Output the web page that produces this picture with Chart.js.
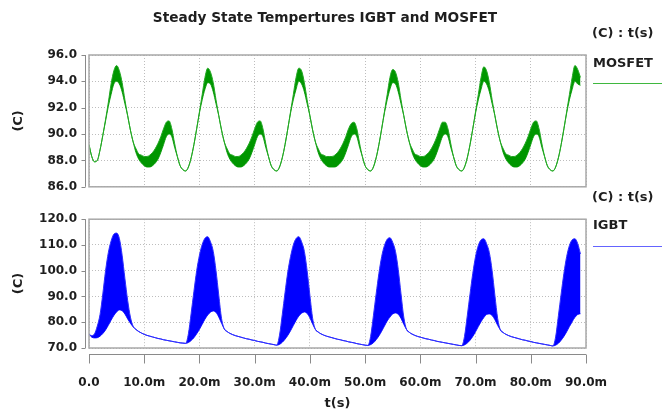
<!DOCTYPE html>
<html><head><meta charset="utf-8">
<script src="https://cdn.jsdelivr.net/npm/chart.js@4.4.1/dist/chart.umd.min.js"></script>
<style>
html,body{margin:0;padding:0;background:#fff;}
#wrap{position:relative;width:662px;height:415px;overflow:hidden;font-family:'DejaVu Sans',sans-serif;font-weight:bold;color:#1e1e1e;}
canvas{position:absolute;left:0;}
#c1{top:0;} #c2{top:200px;}
.t{position:absolute;white-space:nowrap;font-size:13px;line-height:16px;}
.ln{position:absolute;height:1px;}
</style></head><body>
<div id="wrap">
<canvas id="c1" width="662" height="206"></canvas>
<canvas id="c2" width="662" height="215"></canvas>
<div class="t" style="left:0;width:650px;text-align:center;top:9px;font-size:13.7px;">Steady State Tempertures IGBT and MOSFET</div>
<div class="t" style="left:592px;top:25px;">(C) : t(s)</div>
<div class="t" style="left:593px;top:55px;">MOSFET</div>
<div class="ln" style="left:593px;top:83px;width:69px;background:#3fb83f;"></div>
<div class="t" style="left:592px;top:189px;">(C) : t(s)</div>
<div class="t" style="left:593px;top:217px;">IGBT</div>
<div class="ln" style="left:593px;top:246px;width:69px;background:#6464ff;"></div>
</div>
<script>
// time axis in ms
const timeMs = [
0,0.5,1,1.5,2,2.5,3,3.5,4,4.5,5,5.5,6,6.5,7,7.5,8,8.5,9,9.5,
10,10.5,11,11.5,12,12.5,13,13.5,14,14.5,15,15.5,16,16.5,17,17.5,18,18.5,19,19.5,
20,20.5,21,21.5,22,22.5,23,23.5,24,24.5,25,25.5,26,26.5,27,27.5,28,28.5,29,29.5,
30,30.5,31,31.5,32,32.5,33,33.5,34,34.5,35,35.5,36,36.5,37,37.5,38,38.5,39,39.5,
40,40.5,41,41.5,42,42.5,43,43.5,44,44.5,45,45.5,46,46.5,47,47.5,48,48.5,49,49.5,
50,50.5,51,51.5,52,52.5,53,53.5,54,54.5,55,55.5,56,56.5,57,57.5,58,58.5,59,59.5,
60,60.5,61,61.5,62,62.5,63,63.5,64,64.5,65,65.5,66,66.5,67,67.5,68,68.5,69,69.5,
70,70.5,71,71.5,72,72.5,73,73.5,74,74.5,75,75.5,76,76.5,77,77.5,78,78.5,79,79.5,
80,80.5,81,81.5,82,82.5,83,83.5,84,84.5,85,85.5,86,86.5,87,87.5,88,88.5,89
];
// MOSFET temperature ripple envelope (C)
const mosfetHigh = [
89.2,88.3,87.9,88.0,88.8,89.9,91.1,92.4,93.8,94.8,95.2,94.8,93.9,92.6,91.4,90.3,89.4,88.9,88.5,88.4,
88.3,88.3,88.4,88.6,88.9,89.3,89.8,90.4,90.9,91.0,90.4,89.3,88.3,87.6,87.3,87.2,87.5,88.2,89.2,90.4,
91.7,93.0,94.3,95.0,94.7,93.9,92.6,91.4,90.3,89.4,88.9,88.5,88.4,88.3,88.3,88.4,88.6,88.9,89.3,89.8,
90.4,90.9,91.0,90.4,89.3,88.3,87.6,87.3,87.2,87.5,88.2,89.2,90.4,91.7,93.0,94.3,95.0,94.8,93.9,92.6,
91.4,90.3,89.4,88.9,88.5,88.4,88.3,88.3,88.3,88.4,88.6,88.9,89.3,89.8,90.4,90.8,90.9,90.4,89.3,88.3,
87.6,87.3,87.2,87.5,88.2,89.2,90.4,91.7,93.0,94.3,94.9,94.7,93.9,92.6,91.4,90.3,89.4,88.9,88.5,88.4,
88.3,88.3,88.4,88.6,88.9,89.3,89.8,90.4,90.9,90.9,90.4,89.3,88.3,87.6,87.3,87.2,87.5,88.2,89.2,90.4,
91.7,93.0,94.3,95.1,94.8,93.9,92.6,91.4,90.3,89.4,88.9,88.5,88.4,88.3,88.3,88.4,88.6,88.9,89.3,89.8,
90.4,90.9,91.0,90.4,89.3,88.3,87.6,87.3,87.2,87.5,88.2,89.2,90.4,91.7,93.0,94.3,95.2,94.9,94.3
];
const mosfetLow = [
89.2,88.3,87.9,88.0,88.8,89.9,91.0,92.1,93.0,93.8,94.0,93.8,93.2,92.3,91.4,90.3,89.4,88.6,88.1,87.8,
87.6,87.5,87.5,87.6,87.8,88.1,88.6,89.2,89.8,90.0,89.8,89.0,88.3,87.6,87.3,87.2,87.5,88.2,89.2,90.4,
91.6,92.6,93.4,93.9,93.8,93.2,92.3,91.4,90.3,89.4,88.6,88.1,87.8,87.6,87.5,87.5,87.6,87.8,88.1,88.6,
89.2,89.8,90.0,89.8,89.0,88.3,87.6,87.3,87.2,87.5,88.2,89.2,90.4,91.6,92.6,93.4,94.0,93.8,93.2,92.3,
91.4,90.3,89.4,88.6,88.1,87.8,87.6,87.5,87.5,87.5,87.6,87.8,88.1,88.6,89.2,89.8,90.0,89.8,89.0,88.3,
87.6,87.3,87.2,87.5,88.2,89.2,90.4,91.6,92.6,93.4,93.9,93.8,93.2,92.3,91.4,90.3,89.4,88.6,88.1,87.8,
87.6,87.5,87.5,87.6,87.8,88.1,88.6,89.2,89.8,90.0,89.8,89.0,88.3,87.6,87.3,87.2,87.5,88.2,89.2,90.4,
91.6,92.6,93.4,94.0,93.8,93.2,92.3,91.4,90.3,89.4,88.6,88.1,87.8,87.6,87.5,87.5,87.6,87.8,88.1,88.6,
89.2,89.8,90.0,89.8,89.0,88.3,87.6,87.3,87.2,87.5,88.2,89.2,90.4,91.6,92.6,93.4,94.0,93.8,93.7
];
// IGBT temperature ripple envelope (C)
const igbtHigh = [
75.3,74.8,75.5,78.5,83.0,91.0,100.0,107.0,111.5,114.2,114.6,112.5,106.0,97.0,88.5,82.0,78.4,77.2,76.4,75.8,
75.3,74.9,74.6,74.3,74.0,73.7,73.5,73.2,73.0,72.8,72.6,72.4,72.2,72.0,71.9,71.8,75.5,83.5,92.0,100.0,
106.0,110.2,112.6,113.2,111.2,107.5,100.0,90.5,81.5,77.4,76.4,75.7,75.2,74.8,74.5,74.2,73.9,73.6,73.4,73.1,
72.9,72.6,72.4,72.2,71.9,71.7,71.5,71.3,71.1,75.0,83.0,91.5,99.5,105.5,110.0,112.5,113.2,111.2,107.5,100.0,
90.5,81.5,77.2,76.2,75.5,75.0,74.6,74.3,74.0,73.7,73.4,73.2,72.9,72.7,72.4,72.2,72.0,71.7,71.5,71.3,
71.1,71.0,74.5,82.5,91.0,99.0,105.5,109.8,112.2,112.8,111.0,107.5,100.5,91.0,82.0,77.2,76.1,75.4,74.9,74.5,
74.2,73.9,73.6,73.4,73.1,72.9,72.6,72.4,72.2,72.0,71.8,71.6,71.4,71.2,71.0,70.9,74.5,82.5,91.0,99.0,
105.5,109.8,112.0,112.4,110.5,107.0,100.0,90.5,81.5,77.0,76.0,75.3,74.8,74.4,74.1,73.8,73.5,73.2,73.0,72.7,
72.5,72.2,72.0,71.8,71.6,71.4,71.2,71.0,70.8,74.3,82.5,91.0,99.0,105.5,109.8,112.0,112.4,110.5,106.5
];
const igbtLow = [
75.3,74.2,73.9,74.0,74.6,75.6,77.0,78.8,80.8,82.6,84.0,84.8,84.5,83.2,81.3,79.6,78.2,77.2,76.4,75.8,
75.3,74.9,74.6,74.3,74.0,73.7,73.5,73.2,73.0,72.8,72.6,72.4,72.2,72.0,71.9,71.8,72.1,72.9,74.0,75.5,
77.2,79.2,81.2,82.8,83.9,84.4,83.8,82.0,79.6,77.4,76.4,75.7,75.2,74.8,74.5,74.2,73.9,73.6,73.4,73.1,
72.9,72.6,72.4,72.2,71.9,71.7,71.5,71.3,71.1,71.4,72.2,73.4,74.9,76.7,78.7,80.7,82.4,83.5,84.0,83.4,
81.7,79.3,77.2,76.2,75.5,75.0,74.6,74.3,74.0,73.7,73.4,73.2,72.9,72.7,72.4,72.2,72.0,71.7,71.5,71.3,
71.1,71.0,71.3,72.0,73.2,74.7,76.5,78.5,80.5,82.0,83.2,83.6,83.1,81.5,79.2,77.2,76.1,75.4,74.9,74.5,
74.2,73.9,73.6,73.4,73.1,72.9,72.6,72.4,72.2,72.0,71.8,71.6,71.4,71.2,71.0,70.9,71.2,71.9,73.0,74.5,
76.3,78.3,80.2,81.8,83.0,83.2,82.6,81.0,78.8,77.0,76.0,75.3,74.8,74.4,74.1,73.8,73.5,73.2,73.0,72.7,
72.5,72.2,72.0,71.8,71.6,71.4,71.2,71.0,70.8,71.1,71.8,73.0,74.5,76.3,78.3,80.2,81.9,83.0,83.3
];
const xTickLabels = ['0.0','10.0m','20.0m','30.0m','40.0m','50.0m','60.0m','70.0m','80.0m','90.0m'];
const mosfetTickLabels = ['86.0','88.0','90.0','92.0','94.0','96.0'];
const igbtTickLabels = ['70.0','80.0','90.0','100.0','110.0','120.0'];

const FONT = 'DejaVu Sans';
const TXT = '#1e1e1e';
const pts = arr => timeMs.map((t, i) => ({x: t, y: arr[i]}));

const frame = {
  id: 'frame',
  afterDatasetsDraw(chart, args, opts) {
    const {ctx, chartArea: a, scales} = chart;
    ctx.save();
    ctx.strokeStyle = '#a8a8a8';
    ctx.lineWidth = 1.5;
    ctx.strokeRect(a.left, a.top, a.right - a.left, a.bottom - a.top);
    ctx.strokeStyle = '#8a8a8a';
    ctx.lineWidth = 1;
    const ax = Math.round(a.left) - 3.5;
    ctx.beginPath();
    ctx.moveTo(ax, a.top); ctx.lineTo(ax, a.bottom);
    scales.y.ticks.forEach(t => {
      const py = Math.round(scales.y.getPixelForValue(t.value)) + 0.5;
      ctx.moveTo(ax - 4, py); ctx.lineTo(ax, py);
    });
    if (opts.xAxis) {
      const ay = Math.round(a.bottom) + 6.5;
      ctx.moveTo(a.left, ay); ctx.lineTo(a.right, ay);
      scales.x.ticks.forEach(t => {
        const px = Math.round(scales.x.getPixelForValue(t.value)) + 0.5;
        ctx.moveTo(px, ay); ctx.lineTo(px, ay + 9);
      });
    }
    ctx.stroke();
    ctx.restore();
  }
};

function bandSets(hi, lo, fillColor, lineColor) {
  const common = {borderColor: lineColor, backgroundColor: fillColor, borderWidth: 1,
    pointRadius: 0, cubicInterpolationMode: 'monotone'};
  return [
    Object.assign({data: pts(hi), fill: '+1'}, common),
    Object.assign({data: pts(lo), fill: false}, common)
  ];
}

function makeChart(id, hi, lo, fillColor, lineColor, yMin, yMax, yStep, yLabels, top, xHeight, showX) {
  return new Chart(document.getElementById(id), {
    type: 'line',
    data: {datasets: bandSets(hi, lo, fillColor, lineColor)},
    plugins: [frame],
    options: {
      responsive: false,
      animation: false,
      layout: {padding: {top: top, right: 76, left: 0, bottom: 0}},
      plugins: {legend: {display: false}, tooltip: {enabled: false}, frame: {xAxis: showX}},
      scales: {
        x: {
          type: 'linear', min: 0, max: 90,
          ticks: {display: showX, stepSize: 10, padding: 28, color: TXT,
            font: {family: FONT, weight: 'bold', size: 12},
            callback: (v, i) => xTickLabels[i], maxRotation: 0, autoSkip: false},
          grid: {color: '#bdbdbd', lineWidth: 1, drawTicks: false},
          border: {display: false, dash: [1, 2]},
          title: {display: showX, text: 't(s)', color: TXT,
            font: {family: FONT, weight: 'bold', size: 13}, padding: {top: 0, bottom: 4}},
          afterFit: s => { s.height = xHeight; }
        },
        y: {
          min: yMin, max: yMax,
          ticks: {stepSize: yStep, padding: 12, color: TXT,
            font: {family: FONT, weight: 'bold', size: 12},
            callback: (v, i) => yLabels[i]},
          grid: {color: '#bdbdbd', lineWidth: 1, drawTicks: false},
          border: {display: false, dash: [1, 2]},
          title: {display: true, text: '(C)', color: TXT,
            font: {family: FONT, weight: 'bold', size: 13}, padding: {top: 11, bottom: 0}},
          afterFit: s => { s.width = 89; }
        }
      }
    }
  });
}

makeChart('c1', mosfetHigh, mosfetLow, 'rgb(0,150,0)', 'rgb(35,168,35)', 86, 96, 2, mosfetTickLabels, 55, 14, false);
makeChart('c2', igbtHigh, igbtLow, 'rgb(0,0,255)', 'rgb(45,45,255)', 70, 120, 10, igbtTickLabels, 16, 67, true);
</script>
</body></html>
